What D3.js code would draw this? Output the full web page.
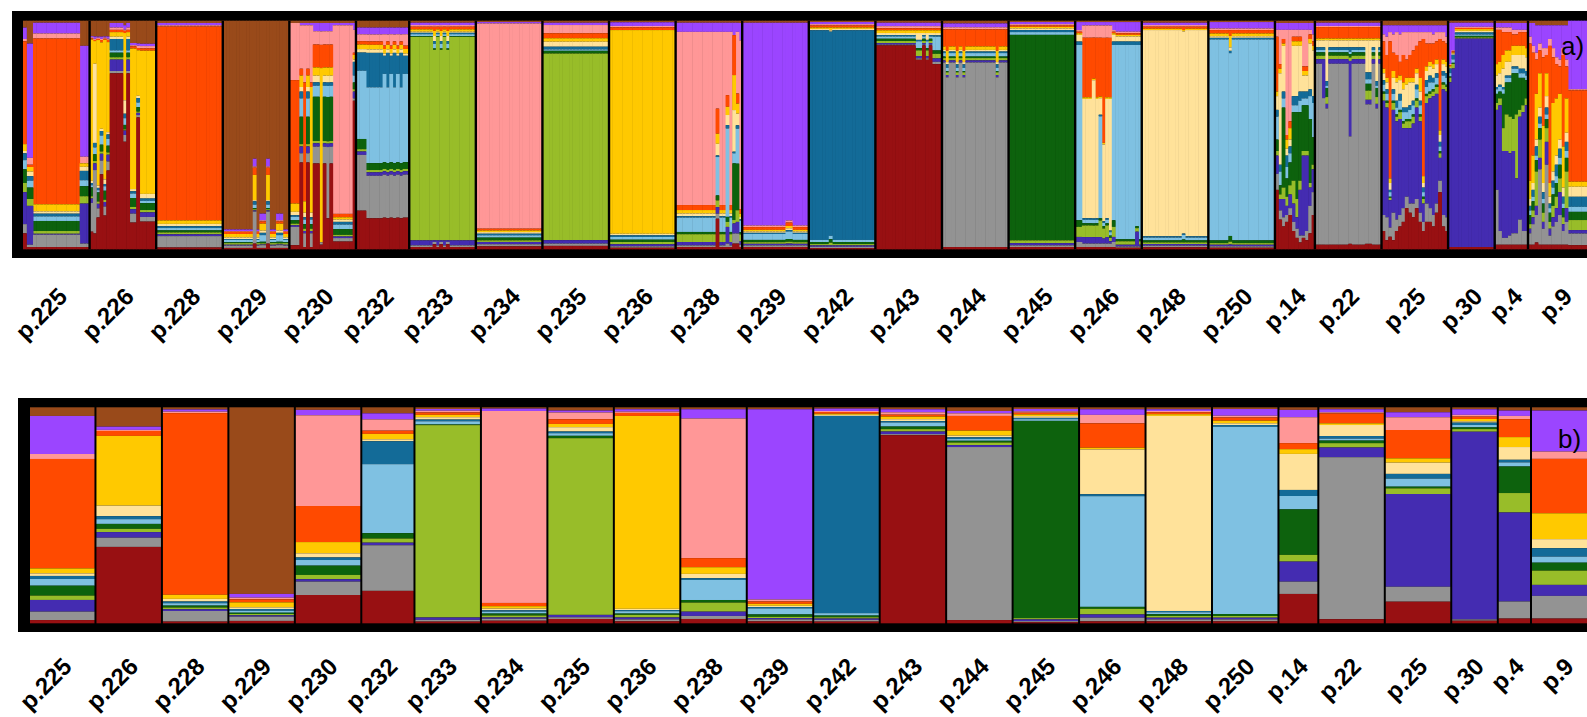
<!DOCTYPE html>
<html>
<head>
<meta charset="utf-8">
<script src="https://cdn.jsdelivr.net/npm/d3@7"></script>
<style>
  html, body { margin: 0; padding: 0; background: #fff; }
  svg { display: block; }
</style>
</head>
<body>
<svg id="chart" width="1587" height="717"></svg>
<script>
// Cluster colours, top of each bar to bottom (K = 13)
const clusterColors = [
  "#994a1a", "#9b45ff", "#ff9797", "#ff4a00", "#ffc900", "#ffe29a", "#136b98",
  "#7fc1e2", "#0d620d", "#98bd29", "#442cb1", "#939393", "#981012"
];

const populations = [
  "p.225", "p.226", "p.228", "p.229", "p.230", "p.232", "p.233", "p.234", "p.235",
  "p.236", "p.238", "p.239", "p.242", "p.243", "p.244", "p.245", "p.246", "p.248",
  "p.250", "p.14", "p.22", "p.25", "p.30", "p.4", "p.9"
];

const sampleSizes = [20, 20, 20, 20, 20, 16, 20, 20, 20, 20, 20, 20, 20, 20, 20, 20, 20, 20, 20, 12, 20, 20, 14, 10, 20];

// Population mean membership (%), one row per population, clusters in colour order
const populationMeans = [
  [4, 17.6, 2.3, 50.6, 2.3, 1.2, 1.4, 3.1, 4.6, 2, 5.4, 3.9, 1.5],
  [9, 1.5, 0.5, 2.3, 32.4, 4.9, 1.4, 2.2, 2.3, 1.5, 2.6, 4.3, 35.5],
  [1, 1, 0.7, 84.1, 1.9, 1.2, 0.8, 1.1, 0.9, 0.8, 0.8, 4.9, 0.8],
  [86.4, 1.7, 0.8, 1.4, 2.3, 0.8, 0.8, 0.9, 0.6, 0.6, 0.6, 2, 1.1],
  [1.2, 2.5, 42, 16.7, 5.2, 1.9, 1.2, 2.6, 4.3, 2, 1.1, 6.2, 13.1],
  [2.8, 2.8, 5.2, 1.5, 2.5, 0.9, 10.6, 31.9, 2.5, 1.9, 1.2, 21.1, 15],
  [0.8, 0.8, 0.8, 1.1, 1.1, 1.1, 0.8, 1.5, 0.3, 89.5, 1.1, 0.8, 0.8],
  [0.6, 1.1, 88.7, 1.5, 1.1, 0.8, 0.6, 0.9, 0.9, 0.9, 0.6, 0.9, 1.2],
  [1.5, 0.9, 3.1, 2.2, 1.5, 2, 0.8, 1.2, 1.1, 81.8, 1.1, 0.8, 2],
  [0.9, 1.1, 0.6, 1.4, 89.2, 0.6, 0.5, 1.1, 0.6, 1.2, 0.9, 0.9, 0.9],
  [0.9, 4.3, 64.7, 4.2, 3.1, 2, 0.8, 9.3, 1.2, 4.2, 2, 1.4, 2],
  [0.9, 88, 0.9, 1.1, 0.9, 0.6, 0.6, 2.8, 1.1, 0.6, 0.6, 0.9, 0.9],
  [0.6, 1.1, 0.5, 0.8, 0.5, 0.5, 91.5, 1.1, 0.8, 0.6, 0.6, 0.8, 0.8],
  [0.9, 1.4, 1.1, 0.9, 1.2, 0.9, 0.6, 1.9, 1.2, 1.1, 1.2, 0.5, 87],
  [1.7, 1.1, 1.2, 6.8, 2.3, 0.8, 0.8, 0.8, 0.8, 1.2, 0.9, 80.1, 1.5],
  [0.8, 1.1, 0.6, 0.8, 0.8, 0.8, 0.6, 0.8, 91.5, 0.6, 0.8, 0.5, 0.5],
  [0.9, 2.6, 3.9, 11.3, 0.8, 20.7, 0.9, 51.2, 0.9, 2.6, 1.5, 1.7, 0.9],
  [0.9, 0.8, 0.6, 0.9, 0.8, 90.3, 0.6, 0.9, 0.8, 0.8, 0.8, 0.9, 0.9],
  [0.8, 3.1, 0.8, 1.5, 1.2, 0.8, 0.8, 86.7, 0.9, 0.8, 0.8, 0.9, 0.9],
  [1.2, 3.4, 12, 2.8, 2.2, 16.7, 2.8, 6.2, 21.1, 3.1, 9.3, 5.7, 13.6],
  [0.9, 1.4, 0.5, 4.6, 0.8, 5.1, 1.2, 0.9, 1.2, 2, 4.5, 75, 1.9],
  [2.3, 2.3, 5.9, 13.1, 2, 5.2, 2.2, 3.7, 0.8, 2.6, 42.9, 6.9, 10],
  [0.9, 2.6, 0.8, 1.1, 1.1, 0.6, 1.1, 1.1, 0.8, 1.2, 86.9, 0.6, 1.2],
  [1.5, 2.5, 1.5, 8.3, 4.6, 5.9, 1.2, 1.9, 12.3, 9, 41.2, 7.9, 2.2],
  [1.5, 19, 3.4, 25.2, 12, 4.2, 3.9, 2.8, 3.7, 6.6, 5.1, 10.5, 2.2]
];

// Individual membership (%), as runs of [number of individuals, profile]
const ind_p225 = [
  [1, [3, 5, 1, 45, 3, 1, 3, 4, 6, 4, 14, 4, 7]],
  [2, [10, 50, 3, 1, 2, 2, 2, 3, 5, 3, 17, 1, 1]],
  [14, [0.9, 4.7, 2.2, 72.6, 3.1, 1, 1.2, 2, 4.4, 1.2, 0.4, 5.4, 1]],
  [3, [11, 48.5, 2.9, 0, 1.5, 1.8, 4.1, 2.6, 4.4, 3.2, 17.5, 1.5, 1]]
];
const ind_p226 = [
  [1, [7, 0.5, 0.5, 0.5, 64, 1, 1, 1, 4, 1, 2, 13, 8]],
  [1, [7, 1, 0.5, 0.5, 10, 35, 2, 3, 3, 1, 3, 28, 7]],
  [1, [7, 0.5, 0.5, 0.5, 64, 1, 1, 1, 4, 1, 2, 4, 14]],
  [1, [7, 1, 0.5, 1, 38, 1, 2, 4, 3, 1, 3, 6, 33]],
  [1, [7, 0.5, 0.5, 0.5, 62, 2, 1, 2, 4, 1, 2, 4, 15]],
  [1, [7, 1, 0.5, 1, 40, 1, 2, 3, 3, 1, 3, 4, 35]],
  [4, [1, 2, 1, 1, 2, 1, 5, 1, 2, 1, 5, 1, 77]],
  [1, [2, 2, 0.5, 1, 30, 6, 2, 3, 2, 0.5, 2, 3, 48]],
  [1, [1, 2, 1, 1, 2, 1, 5, 1, 2, 1, 5, 1, 77]],
  [2, [10, 1, 0.5, 1, 63, 1, 1, 2, 4, 1, 2, 4, 12]],
  [1, [10, 1, 1, 1, 20, 1, 2, 2, 2, 0.5, 1, 1, 58]],
  [5, [10, 1, 1, 1, 62, 2, 1, 1, 3, 1, 2, 2, 12]]
];
const ind_p228 = [
  [20, [1, 1, 0.5, 84, 1.5, 1, 0.8, 1, 0.9, 0.8, 0.8, 4.9, 0.8]]
];
const ind_p229 = [
  [9, [91.4, 0.7, 0.3, 1, 1.5, 0.7, 0.4, 1, 0.4, 0.7, 0.4, 1, 0.6]],
  [1, [60.3, 3.4, 0.5, 3.2, 11, 0.5, 1.5, 1.5, 0.5, 0.5, 0.5, 14, 2.5]],
  [1, [91.4, 0.7, 0.3, 1, 1.5, 0.7, 0.4, 1, 0.4, 0.7, 0.4, 1, 0.6]],
  [2, [84.4, 2.9, 0.5, 1, 3, 1, 1, 2.9, 0.7, 0.5, 0.3, 1.2, 0.6]],
  [1, [60.3, 3.4, 0.5, 3.2, 11, 0.5, 1.5, 1.5, 0.5, 0.5, 0.5, 14, 2.5]],
  [2, [91.4, 0.7, 0.3, 1, 1.5, 0.7, 0.4, 1, 0.4, 0.7, 0.4, 1, 0.6]],
  [2, [84.4, 2.9, 0.5, 1, 3, 1, 1, 2.9, 0.7, 0.5, 0.3, 1.2, 0.6]],
  [2, [91.4, 0.7, 0.3, 1, 1.5, 0.7, 0.4, 1, 0.4, 0.7, 0.4, 1, 0.6]]
];
const ind_p230 = [
  [3, [1, 0, 25, 54, 3.6, 1.5, 0.7, 1.5, 1.5, 0.7, 0.7, 8, 1.8]],
  [1, [1, 1, 19, 3, 5, 2, 3, 8, 12, 1, 3, 4, 38]],
  [1, [1, 1, 25, 52, 5, 2, 1, 2, 2, 1, 1, 6, 1]],
  [1, [1, 1, 19, 3, 5, 2, 3, 8, 12, 1, 3, 4, 38]],
  [1, [1, 1, 25, 2, 55, 2, 1, 2, 2, 1, 1, 6, 1]],
  [2, [1, 3.6, 5.8, 10, 3.6, 2.9, 1.5, 4.8, 19.3, 1, 1.5, 7.3, 37.5]],
  [1, [1, 3.6, 5.8, 10, 75, 0, 0, 0, 0, 0, 0, 1, 2]],
  [1, [1, 3.6, 5.8, 10, 3.6, 2.9, 1.5, 4.8, 19.3, 1, 1.5, 7.3, 37.5]],
  [1, [1, 3.6, 5.8, 10, 3.6, 2.9, 1.5, 4.8, 19.3, 1, 1.5, 31, 13.5]],
  [1, [1, 3.6, 5.8, 10, 3.6, 2.9, 1.5, 4.8, 19.3, 1, 1.5, 7.3, 37.5]],
  [6, [1, 1, 82.5, 1.5, 1, 1, 1.2, 2, 2.5, 0.7, 0.7, 1.5, 3.4]],
  [1, [1, 3, 10, 1, 2, 1, 6, 3, 3, 1, 3, 1, 65]]
];
const ind_p232 = [
  [3, [3, 3, 3, 1.5, 2, 1.5, 8, 30, 4.5, 1, 1.5, 24.5, 17]],
  [5, [3, 3, 3, 1.5, 2, 1.5, 15, 33, 3, 1, 1.5, 18.5, 13.5]],
  [1, [3, 3, 5, 1.5, 2, 1, 8, 39, 3, 1, 1.5, 19, 14]],
  [1, [3, 3, 3, 1.5, 2, 1.5, 15, 33, 3, 1, 1.5, 18.5, 13.5]],
  [1, [3, 3, 5, 1.5, 2, 1, 8, 39, 3, 1, 1.5, 19, 14]],
  [1, [3, 3, 3, 1.5, 2, 1.5, 15, 33, 3, 1, 1.5, 18.5, 13.5]],
  [1, [3, 3, 5, 1.5, 2, 1, 8, 39, 3, 1, 1.5, 19, 14]],
  [1, [3, 3, 3, 1.5, 2, 1.5, 15, 33, 3, 1, 1.5, 18.5, 13.5]],
  [2, [3, 3, 5, 1.5, 2, 1, 8, 39, 3, 1, 1.5, 19, 14]]
];
const ind_p233 = [
  [7, [0.9, 1, 0.7, 1.2, 1, 0.5, 0.6, 0.9, 0.3, 89, 2.2, 0.7, 1]],
  [1, [0.9, 1, 0.7, 1.8, 2.2, 2.2, 1.2, 2, 0.6, 82.3, 0.7, 1, 2.2]],
  [1, [0.9, 1, 0.7, 1.2, 1, 0.5, 0.6, 0.9, 0.3, 89, 2.2, 0.7, 1]],
  [1, [0.9, 1, 0.7, 1.8, 2.2, 2.2, 1.2, 2, 0.6, 82.3, 0.7, 1, 2.2]],
  [1, [0.9, 1, 0.7, 1.2, 1, 0.5, 0.6, 0.9, 0.3, 89, 2.2, 0.7, 1]],
  [1, [0.9, 1, 0.7, 1.8, 2.2, 2.2, 1.2, 2, 0.6, 82.3, 0.7, 1, 2.2]],
  [8, [0.9, 1, 0.7, 1.2, 1, 0.5, 0.6, 0.9, 0.3, 89, 2.2, 0.7, 1]]
];
const ind_p234 = [
  [20, [0.6, 0.6, 89.5, 0.8, 0.7, 0.7, 0.7, 1, 1.2, 0.7, 1, 0.9, 1.3]]
];
const ind_p235 = [
  [20, [0.9, 1, 3.6, 2.2, 1.5, 2.2, 1.2, 0.6, 1.2, 81.8, 1.5, 1, 1.5]]
];
const ind_p236 = [
  [20, [0.7, 1.6, 0.6, 1.2, 89, 0.7, 0.7, 1.2, 1, 1, 0.9, 0.6, 0.7]]
];
const ind_p238 = [
  [12, [0.9, 4, 75.9, 2.2, 1.5, 1.2, 0.6, 6.3, 1, 3.4, 1.5, 0.7, 1]],
  [1, [0.9, 4, 33.6, 11, 4.4, 5.1, 0.7, 16.8, 2.2, 2.9, 2.9, 2.2, 13.4]],
  [2, [0.9, 4, 75.9, 2.2, 1.5, 1.2, 0.6, 6.3, 1, 3.4, 1.5, 0.7, 1]],
  [1, [0.9, 4, 27.7, 5.1, 3.6, 4.4, 1.5, 38.7, 2.2, 2.2, 7.3, 1.5, 1]],
  [1, [0.9, 4, 75.9, 2.2, 1.5, 1.2, 0.6, 6.3, 1, 3.4, 1.5, 0.7, 1]],
  [1, [0.9, 5.4, 0, 17.5, 15.3, 18.2, 0.7, 4.4, 24.8, 1.5, 4.4, 4.4, 2.5]],
  [1, [0.9, 4, 27, 4.4, 4.4, 5.1, 1.5, 15.3, 20.4, 5.1, 5.1, 4.4, 2.5]],
  [1, [1, 7.6, 73.7, 2, 1.5, 1, 0.6, 5, 1, 3, 1.5, 1, 1]]
];
const ind_p239 = [
  [13, [0.9, 88.6, 0.7, 1.2, 0.7, 0.6, 0.5, 2.6, 1, 0.7, 0.7, 0.7, 1]],
  [2, [0.9, 86.5, 0.9, 1.5, 1, 0.8, 0.6, 3.3, 1.2, 0.8, 0.8, 0.7, 1]],
  [5, [0.9, 88.6, 0.7, 1.2, 0.7, 0.6, 0.5, 2.6, 1, 0.7, 0.7, 0.7, 1]]
];
const ind_p242 = [
  [6, [0.6, 0.9, 0.6, 0.9, 0.6, 0.6, 92, 0.9, 0.9, 0.6, 0.6, 0.6, 0.5]],
  [1, [0.6, 0.9, 0.6, 0.9, 1.2, 0.6, 89.5, 1.5, 1.5, 1.2, 0.6, 0.6, 0.5]],
  [13, [0.6, 0.9, 0.6, 0.9, 0.6, 0.6, 92, 0.9, 0.9, 0.6, 0.6, 0.6, 0.5]]
];
const ind_p243 = [
  [12, [0.9, 1.5, 0.9, 0.9, 1.2, 0.9, 0.6, 1, 1, 0.9, 0.7, 0.3, 89.3]],
  [2, [0.9, 1.5, 0.9, 0.9, 1.2, 3, 0.6, 3, 1, 2.5, 1, 0.6, 83]],
  [1, [0.9, 1.5, 0.9, 0.9, 1.2, 0.9, 0.6, 1, 1, 0.9, 0.7, 0.3, 89.3]],
  [1, [0.9, 1.5, 0.9, 0.9, 1.2, 3, 0.6, 3, 1, 2.5, 1, 0.6, 83]],
  [1, [0.9, 1.5, 0.9, 0.9, 1.2, 0.9, 0.6, 1, 1, 0.9, 0.7, 0.3, 89.3]],
  [3, [0.9, 1.5, 0.9, 0.9, 1.2, 1, 0.6, 6, 1.5, 2, 1.5, 1, 81]]
];
const ind_p244 = [
  [1, [1.2, 1.7, 0.9, 7.5, 1.5, 0.7, 0.7, 1.5, 0.7, 1, 0.9, 80.9, 1]],
  [1, [1.2, 1.7, 0.9, 9.5, 5, 1, 1.5, 1.5, 0.5, 1.2, 1, 75, 1]],
  [2, [1.2, 1.7, 0.9, 7.5, 1.5, 0.7, 0.7, 1.5, 0.7, 1, 0.9, 80.9, 1]],
  [1, [1.2, 1.7, 0.9, 9.5, 5, 1, 1.5, 1.5, 0.5, 1.2, 1, 75, 1]],
  [1, [1.2, 1.7, 0.9, 7.5, 1.5, 0.7, 0.7, 1.5, 0.7, 1, 0.9, 80.9, 1]],
  [1, [1.2, 1.7, 0.9, 9.5, 5, 1, 1.5, 1.5, 0.5, 1.2, 1, 75, 1]],
  [9, [1.2, 1.7, 0.9, 7.5, 1.5, 0.7, 0.7, 1.5, 0.7, 1, 0.9, 80.9, 1]],
  [1, [1.2, 1.7, 0.9, 9.5, 5, 1, 1.5, 1.5, 0.5, 1.2, 1, 75, 1]],
  [3, [1.2, 1.7, 0.9, 7.5, 1.5, 0.7, 0.7, 1.5, 0.7, 1, 0.9, 80.9, 1]]
];
const ind_p245 = [
  [20, [0.6, 0.9, 0.6, 0.6, 0.7, 0.7, 0.9, 1.2, 90, 1.2, 1, 0.7, 1]]
];
const ind_p246 = [
  [2, [0.6, 3.5, 0.7, 0.7, 0.7, 2.9, 1.5, 76.6, 2.9, 4.4, 2.2, 2.2, 1]],
  [3, [0.6, 1.5, 5.4, 26.3, 0.7, 52.6, 0.7, 1.5, 1, 5.1, 2.9, 1.5, 1]],
  [1, [0.6, 1.5, 5.4, 18.2, 0.7, 61.3, 0.7, 1.5, 1, 5.1, 2.9, 1.5, 1]],
  [1, [0.6, 1.5, 5.4, 26.3, 0.7, 52.6, 0.7, 1.5, 1, 5.1, 2.9, 1.5, 1]],
  [1, [0.6, 1.5, 5.4, 26, 0.7, 7.3, 0.7, 45, 1, 7.3, 2.9, 1.5, 1]],
  [1, [0.6, 1.5, 5.4, 46, 0.7, 33.6, 0.7, 1.5, 1, 4.4, 2.2, 1.5, 1]],
  [1, [0.6, 1.5, 5.4, 26.3, 0.7, 52.6, 0.7, 1.5, 1, 5.1, 2.9, 1.5, 1]],
  [1, [0.6, 1.5, 5.4, 26, 0.7, 57.6, 0.7, 1.5, 1, 1.5, 1, 1.5, 1]],
  [1, [0.6, 3.5, 0.7, 0.7, 0.7, 2.9, 1.5, 76.6, 2.9, 4.4, 2.2, 2.2, 1]],
  [6, [0.6, 4.2, 0.7, 0.7, 0.7, 2.2, 1.5, 85, 0.9, 1.5, 0.8, 0.5, 0.7]],
  [1, [0.6, 4.2, 0.7, 0.7, 0.7, 2.2, 1.5, 79, 0.9, 1.5, 6.5, 0.5, 0.7]],
  [1, [0.6, 4.2, 0.7, 0.7, 0.7, 2.2, 1.5, 85, 0.9, 1.5, 0.8, 0.5, 0.7]]
];
const ind_p248 = [
  [12, [0.9, 1, 0.7, 0.9, 0.6, 90.2, 0.6, 1.2, 0.9, 0.7, 0.7, 0.7, 0.9]],
  [1, [0.9, 1, 0.7, 1.5, 0.6, 88.6, 0.6, 2, 1.3, 0.7, 0.7, 0.7, 0.9]],
  [7, [0.9, 1, 0.7, 0.9, 0.6, 90.2, 0.6, 1.2, 0.9, 0.7, 0.7, 0.7, 0.9]]
];
const ind_p250 = [
  [6, [0.6, 2.8, 0.7, 1.5, 1.2, 0.7, 0.7, 87.9, 1.2, 0.7, 0.7, 0.6, 0.7]],
  [1, [0.6, 2.8, 0.7, 2.5, 5, 1.5, 1, 79.5, 2.5, 1.2, 0.8, 0.6, 0.7]],
  [13, [0.6, 2.8, 0.7, 1.5, 1.2, 0.7, 0.7, 87.9, 1.2, 0.7, 0.7, 0.6, 0.7]]
];
const ind_p14 = [
  [1, [1, 3, 3, 24, 2, 6, 3, 10, 5, 2, 8, 7, 26]],
  [1, [1, 3, 15, 2, 2, 40, 3, 6, 4, 2, 5, 4, 13]],
  [1, [1, 3, 4, 2, 1, 20, 3, 4, 35, 5, 8, 4, 10]],
  [1, [1, 3, 46, 2, 4, 3, 5, 5, 8, 4, 4, 3, 12]],
  [1, [1, 3, 40, 3, 5, 3, 3, 4, 10, 4, 6, 3, 15]],
  [1, [1, 3, 3, 2, 2, 22, 4, 3, 30, 10, 8, 4, 8]],
  [1, [1, 3, 3, 2, 2, 22, 4, 3, 38, 8, 5, 4, 5]],
  [1, [1, 3, 3, 2, 2, 20, 4, 5, 30, 4, 20, 3, 3]],
  [1, [1, 3, 16, 2, 2, 7, 3, 3, 20, 2, 35, 1, 5]],
  [1, [1, 3, 16, 2, 2, 7, 3, 3, 20, 2, 33, 4, 4]],
  [1, [1, 3, 2, 2, 2, 20, 3, 10, 28, 2, 8, 12, 7]],
  [1, [1, 5, 3, 2, 2, 20, 3, 15, 12, 2, 10, 10, 15]]
];
const ind_p22 = [
  [2, [0.9, 1.4, 0.5, 5, 0.8, 3, 1.2, 1, 1.5, 1.5, 2, 79, 2]],
  [1, [0.9, 1.4, 0.5, 5, 0.8, 3, 1.2, 1, 1.5, 1.5, 17, 64, 2]],
  [1, [0.9, 1.4, 0.5, 5, 0.8, 18, 2, 1, 4, 3, 2, 60, 2]],
  [6, [0.9, 1.4, 0.5, 5, 0.8, 3, 1.2, 1, 1.5, 1.5, 2, 79, 2]],
  [1, [0.9, 1.4, 0.5, 5, 0.8, 3, 2, 1, 1.5, 1.5, 33, 47, 2.4]],
  [4, [0.9, 1.4, 0.5, 5, 0.8, 3, 1.2, 1, 1.5, 1.5, 2, 79, 2]],
  [2, [0.9, 1.4, 0.5, 5, 0.8, 14, 3, 2, 3, 4, 2, 61, 2.4]],
  [1, [0.9, 1.4, 0.5, 5, 0.8, 3, 1.2, 1, 1.5, 1.5, 2, 79, 2]],
  [1, [0.9, 1.4, 0.5, 5, 0.8, 18, 2, 1, 4, 3, 2, 60, 2]],
  [1, [0.9, 1.4, 0.5, 5, 0.8, 3, 1.2, 1, 1.5, 1.5, 2, 79, 2]]
];
const ind_p25 = [
  [1, [2, 4, 3, 12, 2, 3, 2, 3, 1, 3, 50, 7, 8]],
  [1, [2, 5, 8, 10, 2, 3, 2, 3, 1, 2, 48, 10, 4]],
  [1, [2, 3, 4, 60, 2, 3, 1, 2, 0.5, 1, 12, 4, 5.5]],
  [1, [2, 4, 8, 8, 3, 5, 2, 3, 1, 3, 45, 12, 4]],
  [1, [2, 3, 10, 10, 2, 8, 3, 3, 1, 2, 43, 5, 8]],
  [1, [2, 4, 12, 6, 2, 6, 3, 4, 1, 3, 42, 5, 10]],
  [1, [2, 3, 10, 12, 3, 8, 2, 4, 1, 2, 35, 6, 12]],
  [1, [2, 3, 12, 8, 3, 10, 2, 3, 1, 3, 30, 5, 18]],
  [1, [2, 3, 10, 10, 2, 10, 2, 4, 1, 3, 33, 4, 16]],
  [1, [2, 3, 8, 12, 2, 8, 2, 4, 1, 3, 35, 6, 14]],
  [1, [2, 3, 6, 10, 2, 5, 2, 4, 1, 3, 40, 4, 18]],
  [1, [2, 3, 4, 16, 6, 4, 2, 4, 1, 2, 40, 4, 12]],
  [1, [2, 3, 3, 60, 3, 2, 2, 2, 1, 2, 8, 4, 8]],
  [1, [2, 3, 5, 10, 2, 4, 3, 3, 1, 3, 44, 8, 12]],
  [1, [2, 3, 5, 8, 2, 4, 3, 4, 1, 2, 48, 6, 12]],
  [1, [2, 4, 4, 9, 2, 4, 2, 3, 1, 2, 52, 5, 10]],
  [1, [2, 3, 4, 8, 2, 4, 2, 3, 1, 3, 48, 4, 16]],
  [1, [2, 3, 3, 40, 2, 3, 2, 2, 1, 2, 10, 5, 25]],
  [1, [2, 3, 4, 8, 2, 3, 2, 3, 1, 2, 55, 5, 10]],
  [1, [2, 5, 3, 8, 2, 3, 2, 3, 1, 2, 55, 6, 8]]
];
const ind_p30 = [
  [1, [0.9, 18, 0.5, 0.5, 0.5, 0.5, 2, 1.5, 0.5, 2, 72, 0, 1]],
  [1, [0.9, 12, 0.5, 0.5, 0.5, 0.5, 2, 1.5, 0.5, 2, 78, 0, 1]],
  [12, [0.9, 1.8, 0.5, 0.5, 0.8, 0.7, 0.9, 0.6, 0.7, 0.5, 92, 0, 1]]
];
const ind_p4 = [
  [1, [1, 2, 1, 15, 5, 5, 1, 2, 4, 3, 35, 24, 2]],
  [1, [1, 2, 1, 14, 5, 5, 1, 2, 3, 3, 55, 6, 2]],
  [1, [1, 2, 2, 10, 6, 8, 1, 2, 15, 10, 38, 3, 2]],
  [1, [1, 2, 2, 8, 5, 6, 1, 2, 14, 16, 38, 3, 2]],
  [1, [1, 2, 2, 8, 5, 6, 1, 2, 15, 16, 36, 4, 2]],
  [1, [1, 3, 2, 5, 4, 5, 1, 2, 20, 14, 36, 5, 2]],
  [1, [1, 3, 2, 5, 4, 5, 1, 2, 18, 28, 24, 5, 2]],
  [1, [1, 3, 1, 6, 4, 6, 2, 2, 14, 3, 45, 11, 2]],
  [1, [1, 3, 1, 6, 4, 6, 2, 2, 12, 3, 52, 6, 2]],
  [1, [1, 3, 1, 7, 4, 6, 2, 2, 8, 3, 55, 6, 2]]
];
const ind_p9 = [
  [1, [1, 6, 3, 60, 8, 3, 2, 2, 4, 2, 2, 5, 2]],
  [1, [1, 10, 3, 45, 12, 3, 3, 2, 4, 3, 3, 9, 2]],
  [1, [2, 12, 3, 15, 20, 3, 4, 2, 5, 15, 4, 12, 3]],
  [1, [2, 8, 3, 10, 15, 4, 3, 2, 5, 8, 5, 33, 2]],
  [1, [2, 10, 4, 30, 25, 4, 3, 2, 4, 4, 3, 7, 2]],
  [1, [2, 10, 3, 8, 10, 5, 3, 2, 4, 6, 10, 35, 2]],
  [1, [2, 6, 3, 60, 6, 3, 2, 2, 4, 3, 3, 4, 2]],
  [1, [2, 10, 4, 20, 30, 4, 3, 3, 5, 5, 4, 8, 2]],
  [1, [2, 14, 3, 15, 25, 4, 5, 3, 6, 5, 6, 10, 2]],
  [1, [2, 15, 3, 12, 20, 4, 4, 3, 6, 6, 10, 13, 2]],
  [1, [2, 10, 3, 40, 18, 4, 3, 2, 4, 3, 3, 6, 2]],
  [1, [2, 15, 3, 14, 15, 4, 4, 3, 6, 16, 6, 10, 2]],
  [8, [0, 30, 0.5, 40, 2.2, 4.4, 4.4, 2.2, 3.6, 4.4, 1.5, 5.1, 1.8]]
];

const individualRuns = [
  ind_p225, ind_p226, ind_p228, ind_p229, ind_p230, ind_p232, ind_p233, ind_p234,
  ind_p235, ind_p236, ind_p238, ind_p239, ind_p242, ind_p243, ind_p244, ind_p245,
  ind_p246, ind_p248, ind_p250, ind_p14, ind_p22, ind_p25, ind_p30, ind_p4, ind_p9
];

// ---------------------------------------------------------------------------
const svg = d3.select("#chart");
const K = clusterColors.length;
const keys = d3.range(K);
const normalise = v => { const s = d3.sum(v); return v.map(d => d / s); };

// running start index of each population along the individual axis
const starts = [];
let acc = 0;
sampleSizes.forEach(n => { starts.push(acc); acc += n; });
const nThroughP4 = starts[starts.length - 1];   // the last population runs past the right edge

// ---------------- panel a: individuals ----------------
const xa = d3.scaleLinear().domain([0, nThroughP4]).range([23, 1528]);
const ya = d3.scaleLinear().domain([0, 1]).range([20.7, 249.3]);

const gA = svg.append("g");
gA.append("rect").attr("x", 12).attr("y", 11).attr("width", 1700).attr("height", 247).attr("fill", "#000");

const individuals = [];
individualRuns.forEach((runs, p) => {
  let i = starts[p];
  runs.forEach(([n, prof]) => {
    for (let k = 0; k < n; k++) individuals.push({ pop: p, idx: i++, q: normalise(prof) });
  });
});

const stackA = d3.stack().keys(keys).value((d, k) => d.q[k])(individuals);
gA.selectAll("g.cl").data(stackA).join("g")
  .attr("fill", s => clusterColors[s.key])
  .selectAll("rect").data(s => s).join("rect")
  .attr("x", d => xa(d.data.idx))
  .attr("width", d => xa(d.data.idx + 1) - xa(d.data.idx) + 0.5)
  .attr("y", d => ya(d[0]))
  .attr("height", d => Math.max(0, ya(d[1]) - ya(d[0])));

// population separators
gA.selectAll("line.sep").data(starts.slice(1)).join("line")
  .attr("x1", d => xa(d)).attr("x2", d => xa(d))
  .attr("y1", ya(0)).attr("y2", ya(1))
  .attr("stroke", "#000").attr("stroke-width", 2.4);

gA.append("text").attr("x", 1561).attr("y", 55)
  .attr("font-family", "Liberation Sans, Arial, sans-serif").attr("font-size", 26)
  .attr("fill", "#000").text("a)");

// ---------------- panel b: population means ----------------
const xb = d3.scaleLinear().domain([0, nThroughP4]).range([29, 1531]);
const yb = d3.scaleLinear().domain([0, 1]).range([407.3, 623.3]);

const gB = svg.append("g");
gB.append("rect").attr("x", 18).attr("y", 398).attr("width", 1700).attr("height", 234).attr("fill", "#000");

const popRows = populationMeans.map((m, p) => ({ pop: p, q: normalise(m) }));
const stackB = d3.stack().keys(keys).value((d, k) => d.q[k])(popRows);
gB.selectAll("g.cl").data(stackB).join("g")
  .attr("fill", s => clusterColors[s.key])
  .selectAll("rect").data(s => s).join("rect")
  .attr("x", d => xb(starts[d.data.pop]) + 1)
  .attr("width", d => xb(starts[d.data.pop] + sampleSizes[d.data.pop]) - xb(starts[d.data.pop]) - 2)
  .attr("y", d => yb(d[0]))
  .attr("height", d => Math.max(0, yb(d[1]) - yb(d[0])));

gB.append("text").attr("x", 1558).attr("y", 448)
  .attr("font-family", "Liberation Sans, Arial, sans-serif").attr("font-size", 26)
  .attr("fill", "#000").text("b)");

// ---------------- population labels ----------------
function labels(g, xs, y, dx) {
  g.selectAll("text.lab").data(populations).join("text")
    .attr("class", "lab")
    .attr("transform", (d, p) => {
      const cx = (xs(starts[p]) + xs(starts[p] + sampleSizes[p])) / 2;
      return `translate(${cx + dx},${y}) rotate(-45)`;
    })
    .attr("text-anchor", "end")
    .attr("font-family", "Liberation Sans, Arial, Helvetica, sans-serif")
    .attr("font-weight", "bold")
    .attr("font-size", 24)
    .attr("fill", "#000")
    .text(d => d);
}
labels(svg.append("g"), xa, 298, 12.5);
labels(svg.append("g"), xb, 668, 11);
</script>
</body>
</html>
